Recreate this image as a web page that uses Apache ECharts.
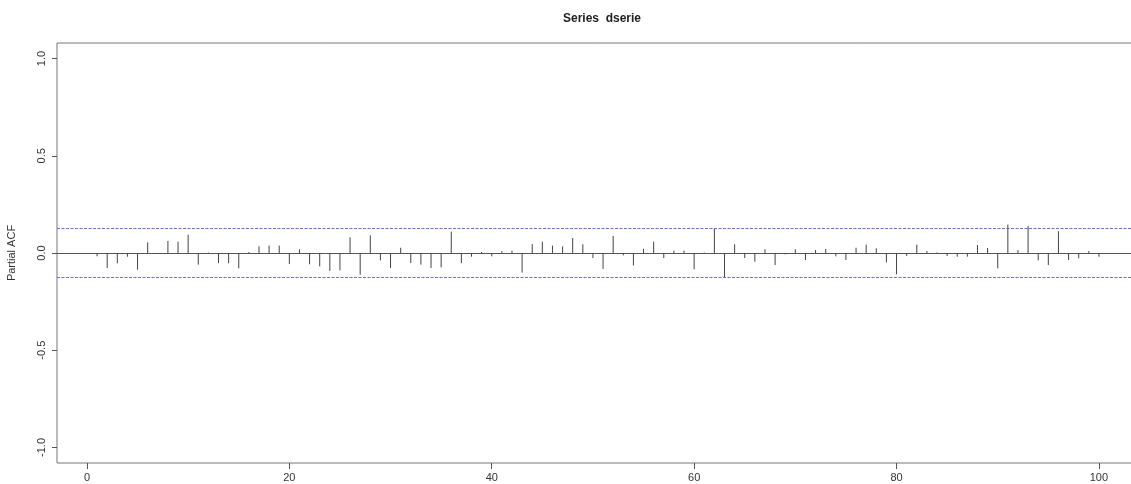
<!DOCTYPE html>
<html>
<head>
<meta charset="utf-8">
<script src="https://cdn.jsdelivr.net/npm/echarts@6/dist/echarts.min.js"></script>
<style>
  html, body { margin: 0; padding: 0; background: #fff; }
  #chart { width: 1131px; height: 484px; }
</style>
</head>
<body>
<div id="chart"></div>
<script>
// Partial autocorrelation of dserie, lags 1..100
const lags = Array.from({ length: 100 }, (_, i) => i + 1);
const pacf = [
  -0.017, -0.077, -0.053, -0.019, -0.086,  0.055, -0.005,  0.062,  0.058,  0.094,
  -0.060,  0.002, -0.052, -0.053, -0.079,  0.005,  0.034,  0.038,  0.038, -0.057,
   0.019, -0.058, -0.069, -0.092, -0.089,  0.081, -0.112,  0.091, -0.038, -0.077,
   0.027, -0.052, -0.060, -0.077, -0.074,  0.110, -0.052, -0.019,  0.005, -0.017,
   0.010,  0.012, -0.101,  0.046,  0.058,  0.038,  0.034,  0.077,  0.045, -0.026,
  -0.082,  0.088, -0.012, -0.064,  0.022,  0.058, -0.026,  0.012,  0.012, -0.084,
   0.002,  0.125, -0.124,  0.045, -0.026, -0.045,  0.019, -0.062, -0.007,  0.019,
  -0.036,  0.015,  0.021, -0.017, -0.036,  0.027,  0.043,  0.024, -0.048, -0.110,
  -0.015,  0.043,  0.010,  0.003, -0.015, -0.019, -0.019,  0.041,  0.026, -0.079,
   0.146,  0.015,  0.139, -0.038, -0.062,  0.112, -0.036, -0.027,  0.010, -0.019
];
// 95% confidence bound
const ciBound = 0.126;
const ciLevels = [ciBound, -ciBound];
const xTicks = [0, 20, 40, 60, 80, 100];
const yTicks = [-1, -0.5, 0, 0.5, 1];

// R-style axis extents: data range padded by 4% on each side
const xPad = (100 - 1) * 0.04;
const yPad = 2 * 0.04;

const font = '"Liberation Sans", Arial, Helvetica, sans-serif';
const chart = echarts.init(document.getElementById('chart'), null, { renderer: 'canvas' });

// snap a 1px line to the pixel grid so it stays crisp
const crisp = v => Math.round(v - 0.5) + 0.5;

// full-width horizontal line at a data level
function hlineSeries(levels, style) {
  return {
    type: 'custom',
    silent: true,
    data: levels.map(v => [0, v]),
    renderItem: (params, api) => {
      const cs = params.coordSys;
      const y = crisp(api.coord([0, api.value(1)])[1]);
      return {
        type: 'line',
        shape: { x1: cs.x, y1: y, x2: cs.x + cs.width, y2: y },
        style: Object.assign({ fill: null }, style)
      };
    }
  };
}

chart.setOption({
  animation: false,
  backgroundColor: '#ffffff',
  title: {
    text: 'Series  dserie',
    left: 597,
    top: 8,
    textAlign: 'center',
    textStyle: { fontFamily: font, fontSize: 12, fontWeight: 'bold', color: '#222' }
  },
  grid: {
    left: 57, top: 43, width: 1082, height: 420,
    show: true, borderColor: '#777', borderWidth: 1,
    outerBoundsMode: 'none'
  },
  xAxis: {
    type: 'value',
    min: 1 - xPad, max: 100 + xPad,
    splitLine: { show: false },
    axisLine: { show: false, onZero: false },
    axisTick: { show: true, length: 6, customValues: xTicks, lineStyle: { color: '#555' } },
    axisLabel: {
      customValues: xTicks, margin: 9,
      fontFamily: font, fontSize: 11, color: '#333',
      formatter: v => String(Math.round(v))
    }
  },
  yAxis: {
    type: 'value',
    min: -1 - yPad, max: 1 + yPad,
    name: 'Partial ACF',
    nameLocation: 'middle',
    nameGap: 40,
    nameRotate: 90,
    nameTextStyle: { fontFamily: font, fontSize: 11, color: '#333' },
    splitLine: { show: false },
    axisLine: { show: false, onZero: false },
    axisTick: { show: true, length: 5, customValues: yTicks, lineStyle: { color: '#555' } },
    axisLabel: {
      customValues: yTicks, rotate: 90, margin: 10,
      fontFamily: font, fontSize: 11, color: '#333',
      formatter: v => v.toFixed(1)
    }
  },
  series: [
    // zero line
    hlineSeries([0], { stroke: '#555', lineWidth: 1 }),
    // confidence bounds
    hlineSeries(ciLevels, { stroke: '#6a6aff', lineWidth: 1, lineDash: [3, 1.5] }),
    {
      // one vertical spike per lag
      type: 'custom',
      data: lags.map((l, i) => [l, pacf[i]]),
      renderItem: (params, api) => {
        const p0 = api.coord([api.value(0), 0]);
        const p1 = api.coord([api.value(0), api.value(1)]);
        return {
          type: 'line',
          shape: { x1: p0[0], y1: p0[1], x2: p1[0], y2: p1[1] },
          style: { stroke: '#444', lineWidth: 1 }
        };
      }
    }
  ]
});
</script>
</body>
</html>
